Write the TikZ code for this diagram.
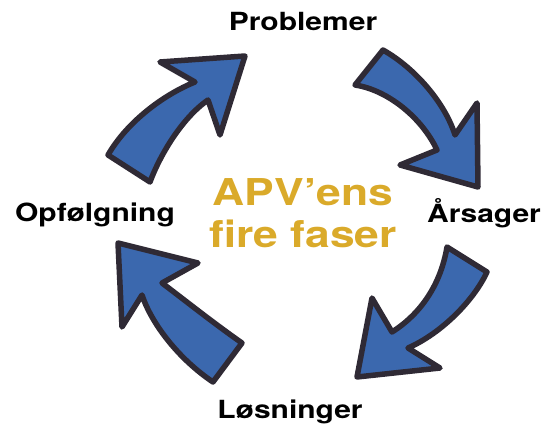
\documentclass[tikz,border=0pt]{standalone}
\usepackage{fontspec}
\setmainfont{TeX Gyre Heros}[FakeStretch=1.2]
\definecolor{arrowblue}{HTML}{3B68AE}
\definecolor{arrowline}{HTML}{2F2A35}
\definecolor{gold}{HTML}{DAAA2A}
\tikzset{
  bigarrow/.style={fill=arrowblue, draw=arrowline, line width=5.5pt, line join=round, line cap=round},
  phase/.style={font=\fontsize{25}{30}\selectfont\bfseries, text=black, inner sep=0pt, anchor=base},
  title/.style={font=\fontsize{37}{42}\selectfont\bfseries, text=gold, inner sep=0pt, align=center}
}
\begin{document}
\begin{tikzpicture}[x=1pt,y=-1pt]
\useasboundingbox (0,0) rectangle (547,430);
% arrow 1 (up-right)
\draw[bigarrow] (108,155) -- (150,182) .. controls (160,155) and (182,118) .. (208,100)
  -- (220,135) -- (245,56) -- (160,62) -- (195,82)
  .. controls (163,95) and (127,122) .. cycle;
% arrow 2 (down-right)
\draw[bigarrow] (383,50) -- (355,85) .. controls (388,90) and (422,118) .. (437,150)
  -- (400,165) -- (478,187) -- (477,103) -- (455,135)
  .. controls (445,103) and (415,68) .. cycle;
% arrow 3 (down-left)
\draw[bigarrow] (447,247) -- (487,272) .. controls (474,300) and (442,333) .. (408,348)
  -- (440,368) -- (357,377) -- (372,298) -- (392,332)
  .. controls (422,313) and (441,283) .. cycle;
% arrow 4 (up-left)
\draw[bigarrow] (213,382) -- (242,343) .. controls (212,322) and (182,298) .. (162,283)
  -- (198,263) -- (118,243) -- (122,327) -- (142,295)
  .. controls (152,325) and (180,360) .. cycle;
% labels
\node[phase] (p1) at (303,31) {Problemer};
\node[phase] (p2) at (484,223) {Årsager};
\node[phase] (p3) at (290,419) {Løsninger};
\node[phase] (p4) at (95,222) {Opfølgning};
\node[title] (t) at (303,213) {APV’ens\\fire faser};
\end{tikzpicture}
\end{document}
